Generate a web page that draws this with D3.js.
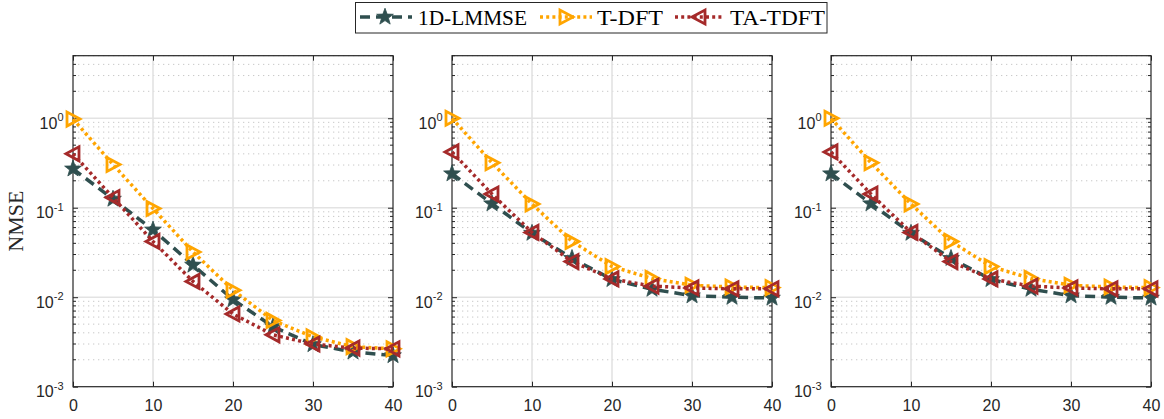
<!DOCTYPE html>
<html><head><meta charset="utf-8">
<script src="https://cdn.jsdelivr.net/npm/d3@7"></script>
<style>body{margin:0;background:#fff}svg{display:block}</style>
</head><body>
<svg id="chart" width="1164" height="419"></svg>
<script>
const snr = [0, 5, 10, 15, 20, 25, 30, 35, 40];
const seriesNames = ["1D-LMMSE", "T-DFT", "TA-TDFT"];
// panel 1
const lmmseA  = [0.272, 0.125, 0.0566, 0.0229, 0.0094, 0.0047, 0.00296, 0.00245, 0.00223];
const tdftA   = [0.98, 0.304, 0.098, 0.032, 0.012, 0.0055, 0.0036, 0.0028, 0.00265];
const tatdftA = [0.40, 0.13, 0.042, 0.015, 0.0065, 0.0038, 0.0030, 0.0027, 0.00265];
// panel 2
const lmmseB  = [0.24, 0.111, 0.052, 0.0272, 0.0158, 0.0123, 0.0104, 0.0100, 0.0098];
const tdftB   = [1.0, 0.318, 0.11, 0.042, 0.022, 0.0162, 0.0136, 0.013, 0.0128];
const tatdftB = [0.42, 0.142, 0.053, 0.025, 0.016, 0.0133, 0.0127, 0.0124, 0.0124];
// panel 3
const lmmseC  = [0.24, 0.111, 0.052, 0.0272, 0.0158, 0.0123, 0.0104, 0.0100, 0.0098];
const tdftC   = [1.0, 0.318, 0.11, 0.042, 0.022, 0.0162, 0.0136, 0.013, 0.0128];
const tatdftC = [0.42, 0.142, 0.053, 0.025, 0.016, 0.0133, 0.0127, 0.0124, 0.0124];
const xTicks = [0, 10, 20, 30, 40];
const yTicks = [1e-3, 1e-2, 1e-1, 1e0];
const yLabel = "NMSE";

const panels = [
  {left: 73,  data: [lmmseA, tdftA, tatdftA], ylabel: true},
  {left: 452, data: [lmmseB, tdftB, tatdftB], ylabel: false},
  {left: 831, data: [lmmseC, tdftC, tatdftC], ylabel: false}
];
const W = 320, yTop = 55.7, yBot = 386.7;
const axisColor = "#262626";
const styles = [
  {color: "#2F4F4F", dash: "10,6", marker: "star"},
  {color: "#FFA500", dash: "3,3.2", marker: "right"},
  {color: "#A52A2A", dash: "3,3.2", marker: "left"}
];

const svg = d3.select("#chart");

function markerPath(type) {
  if (type === "star") {
    const pts = [];
    for (let i = 0; i < 10; i++) {
      const r = i % 2 === 0 ? 8.8 : 3.6;
      const a = -Math.PI / 2 + i * Math.PI / 5;
      pts.push([r * Math.cos(a), r * Math.sin(a)]);
    }
    return "M" + pts.map(p => p.join(",")).join("L") + "Z";
  }
  if (type === "right") return "M7,0L-6,-7L-6,7Z";
  return "M-7,0L6,-7L6,7Z";
}
function drawMarker(g, type, color, x, y) {
  const p = g.append("path").attr("d", markerPath(type)).attr("transform", `translate(${x},${y})`);
  if (type === "star") p.attr("fill", color).attr("stroke", color).attr("stroke-width", 0.8);
  else p.attr("fill", "none").attr("stroke", color).attr("stroke-width", 2.8).attr("stroke-linejoin", "miter");
}

panels.forEach(P => {
  const x = d3.scaleLinear().domain([0, 40]).range([P.left, P.left + W]);
  const y = d3.scaleLog().domain([1e-3, 5]).range([yBot, yTop]);
  const g = svg.append("g");

  // minor grid
  const minor = [];
  for (let e = -3; e <= 0; e++) for (let m = 2; m <= 9; m++) { const v = m * Math.pow(10, e); if (v <= 5) minor.push(v); }
  g.selectAll(".mg").data(minor).enter().append("line")
    .attr("x1", P.left).attr("x2", P.left + W).attr("y1", d => y(d)).attr("y2", d => y(d))
    .attr("stroke", "#c8c8c8").attr("stroke-width", 1).attr("stroke-dasharray", "1.3,3.7");
  // major grid
  g.selectAll(".gy").data([1e-2, 1e-1, 1e0]).enter().append("line")
    .attr("x1", P.left).attr("x2", P.left + W).attr("y1", d => y(d)).attr("y2", d => y(d))
    .attr("stroke", "#e3e3e3").attr("stroke-width", 1.6);
  g.selectAll(".gx").data([10, 20, 30]).enter().append("line")
    .attr("y1", yTop).attr("y2", yBot).attr("x1", d => x(d)).attr("x2", d => x(d))
    .attr("stroke", "#e3e3e3").attr("stroke-width", 1.6);

  // axes
  const xa = svg.append("g").attr("transform", `translate(0,${yBot})`)
    .call(d3.axisBottom(x).tickValues(xTicks).tickSize(-5).tickPadding(0).tickFormat(d3.format("d")));
  xa.select(".domain").remove();
  xa.selectAll("line").attr("stroke", axisColor);
  xa.selectAll("text").attr("y", 24.5).attr("dy", 0).attr("fill", axisColor)
    .style("font-family", "'Liberation Sans', Arial, sans-serif").style("font-size", "16px");
  const xt = svg.append("g").attr("transform", `translate(0,${yTop})`)
    .call(d3.axisTop(x).tickValues(xTicks).tickSize(-5).tickFormat(""));
  xt.select(".domain").remove(); xt.selectAll("line").attr("stroke", axisColor);

  const ya = svg.append("g").attr("transform", `translate(${P.left},0)`)
    .call(d3.axisLeft(y).tickValues(yTicks).tickSize(-5).tickPadding(0).tickFormat(""));
  ya.select(".domain").remove(); ya.selectAll("line").attr("stroke", axisColor);
  ya.selectAll(".tick").append("text")
    .attr("x", -13).attr("y", 9.8).attr("text-anchor", "start").attr("fill", axisColor)
    .style("font-family", "'Liberation Sans', Arial, sans-serif").style("font-size", "16px")
    .each(function(d) {
      const t = d3.select(this);
      const e = Math.round(Math.log10(d));
      t.append("tspan").text("10");
      t.append("tspan").attr("dy", -7.5).style("font-size", "11px").text(String(e));
    });
  ya.selectAll(".tick text").each(function() {
    const bb = this.getBBox();
    d3.select(this).attr("x", -9.5 - bb.width);
  });
  const yr = svg.append("g").attr("transform", `translate(${P.left + W},0)`)
    .call(d3.axisRight(y).tickValues(yTicks).tickSize(-5).tickFormat(""));
  yr.select(".domain").remove(); yr.selectAll("line").attr("stroke", axisColor);
  // minor ticks
  [P.left, P.left + W].forEach((ax, i) => {
    g.selectAll(null).data(minor).enter().append("line")
      .attr("x1", ax).attr("x2", ax + (i === 0 ? 3 : -3)).attr("y1", d => y(d)).attr("y2", d => y(d))
      .attr("stroke", axisColor).attr("stroke-width", 1);
  });

  // box
  svg.append("rect").attr("x", P.left).attr("y", yTop).attr("width", W).attr("height", yBot - yTop)
    .attr("fill", "none").attr("stroke", axisColor).attr("stroke-width", 1.2);

  // series
  const line = d3.line().x((d, i) => x(snr[i])).y(d => y(d));
  P.data.forEach((vals, k) => {
    const s = styles[k];
    svg.append("path").datum(vals).attr("d", line).attr("fill", "none")
      .attr("stroke", s.color).attr("stroke-width", 3.5).attr("stroke-dasharray", s.dash);
    const mg = svg.append("g");
    vals.forEach((v, i) => drawMarker(mg, s.marker, s.color, x(snr[i]), y(v)));
  });

  if (P.ylabel) {
    svg.append("text").attr("transform", `translate(23,${(yTop + yBot) / 2}) rotate(-90)`)
      .attr("text-anchor", "middle").attr("fill", axisColor)
      .style("font-family", "'Liberation Serif', 'Times New Roman', serif").style("font-size", "20px")
      .attr("textLength", 61).attr("lengthAdjust", "spacingAndGlyphs").text(yLabel);
  }
});

// legend
const leg = svg.append("g");
leg.append("rect").attr("x", 355.5).attr("y", 2.5).attr("width", 471.5).attr("height", 30.5)
  .attr("fill", "#fff").attr("stroke", axisColor).attr("stroke-width", 1);
const legItems = [
  {x1: 360, x2: 412, tx: 418, tl: 109},
  {x1: 540, x2: 592, tx: 597, tl: 66},
  {x1: 675, x2: 723, tx: 730, tl: 95}
];
legItems.forEach((L, k) => {
  const s = styles[k];
  leg.append("line").attr("x1", L.x1).attr("x2", L.x2).attr("y1", 17).attr("y2", 17)
    .attr("stroke", s.color).attr("stroke-width", 3.5).attr("stroke-dasharray", s.dash);
  drawMarker(leg, s.marker, s.color, (L.x1 + L.x2) / 2 + (k === 0 ? -1 : 0), 17);
  leg.append("text").attr("x", L.tx).attr("y", 24.5).attr("fill", "#000")
    .style("font-family", "'Liberation Serif', 'Times New Roman', serif").style("font-size", "21px")
    .attr("textLength", L.tl).attr("lengthAdjust", "spacingAndGlyphs").text(seriesNames[k]);
});
</script>
</body></html>
